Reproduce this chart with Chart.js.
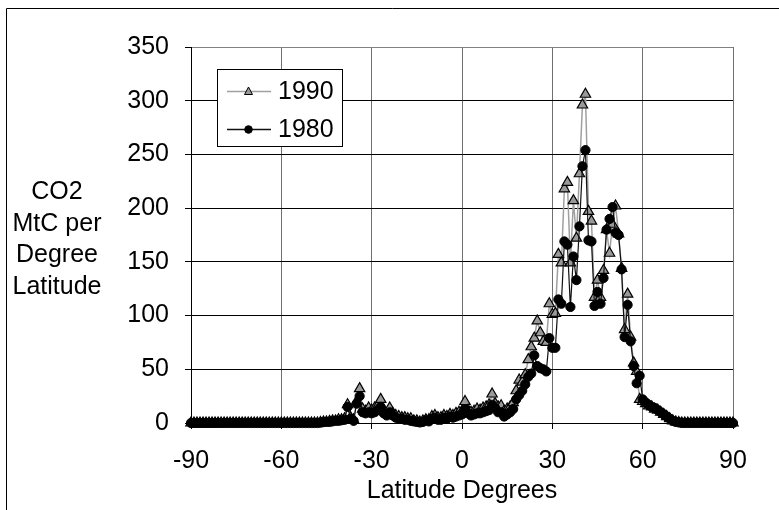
<!DOCTYPE html>
<html>
<head>
<meta charset="utf-8">
<script src="https://cdn.jsdelivr.net/npm/chart.js@4.4.0/dist/chart.umd.min.js"></script>
<style>
  html, body { margin: 0; padding: 0; background: #fff; }
  #wrap { position: relative; width: 779px; height: 510px; }
</style>
</head>
<body>
<div id="wrap"><canvas id="chart" width="779" height="510"></canvas></div>
<script>
// latitude of each point (one per degree)
const latitudes = [
  -90,-89,-88,-87,-86,-85,-84,-83,-82,-81,-80,-79,-78,-77,-76,-75,-74,-73,-72,-71,
  -70,-69,-68,-67,-66,-65,-64,-63,-62,-61,-60,-59,-58,-57,-56,-55,-54,-53,-52,-51,
  -50,-49,-48,-47,-46,-45,-44,-43,-42,-41,-40,-39,-38,-37,-36,-35,-34,-33,-32,-31,
  -30,-29,-28,-27,-26,-25,-24,-23,-22,-21,-20,-19,-18,-17,-16,-15,-14,-13,-12,-11,
  -10,-9,-8,-7,-6,-5,-4,-3,-2,-1,0,1,2,3,4,5,6,7,8,9,
  10,11,12,13,14,15,16,17,18,19,20,21,22,23,24,25,26,27,28,29,
  30,31,32,33,34,35,36,37,38,39,40,41,42,43,44,45,46,47,48,49,
  50,51,52,53,54,55,56,57,58,59,60,61,62,63,64,65,66,67,68,69,
  70,71,72,73,74,75,76,77,78,79,80,81,82,83,84,85,86,87,88,89,90
];

// MtC per degree latitude, 1990
const co2_1990 = [
  0,0,0,0,0,0,0,0,0,0,0,0,0,0,0,0,0,0,0,0,
  0,0,0,0,0,0,0,0,0,0,0,0,0,0,0,0,0,0,0,0,
  0,0,0,0.5,1,1,1.5,2,2,3,3,4,17,5,3,20,32,13,11,14,
  12,14,16,22,12,9,14,9,7,6,5,5,4,4,2,2,1,2,3,3,
  6,7,5,5,7,6,8,7,9,10,11,20,12,10,11,13,12,14,15,17,
  27,18,15,16,11,13,15,19,30,40,38,45,59,71,79,95,84,76,75,111,
  101,102,157,149,218,224,149,207,172,232,296,306,197,188,117,133,117,142,180,158,
  185,202,176,144,87,120,80,56,48,22,20,18,16,15,13,12,10,8,6,4,
  2,1,0.5,0,0,0,0,0,0,0,0,0,0,0,0,0,0,0,0,0,0
];

// MtC per degree latitude, 1980
const co2_1980 = [
  0,0,0,0,0,0,0,0,0,0,0,0,0,0,0,0,0,0,0,0,
  0,0,0,0,0,0,0,0,0,0,0,0,0,0,0,0,0,0,0,0,
  0,0,0,0.3,0.8,1,1,1.5,2,2,2.5,3,15,4,2,18,25,10,9,10,
  9,10,12,15,9,7,10,7,5,4,4,3,3,2,1.5,1,0.5,1,2.5,1.5,
  4,5,3,3,5,4,6,5,6,7,8,13,9,7,8,9,9,10,11,12,
  17,14,10,10,6,8,10,13,22,26,30,36,43,46,63,53,51,50,48,79,
  70,70,115,111,169,166,108,155,133,183,239,254,170,169,109,122,111,135,180,190,
  201,177,175,143,80,110,76,53,37,44,22,19,17,15,14,12,10,8,6,4,
  2,1,0.5,0,0,0,0,0,0,0,0,0,0,0,0,0,0,0,0,0,0
];

const seriesNames = ['1990', '1980'];
const xTicks = [-90, -60, -30, 0, 30, 60, 90];
const yTicks = [0, 50, 100, 150, 200, 250, 300, 350];
const xTitle = 'Latitude Degrees';
const yTitleLines = ['CO2', 'MtC per', 'Degree', 'Latitude'];

const FONT = "'Liberation Sans', Arial, sans-serif";

function toPoints(values) {
  return latitudes.map((lat, i) => ({ x: lat, y: values[i] }));
}

// outer frame, y title and the boxed legend
const extras = {
  id: 'extras',
  beforeDraw(chart) {
    const ctx = chart.ctx;
    ctx.save();
    ctx.strokeStyle = '#000';
    ctx.lineWidth = 1;
    ctx.beginPath();
    ctx.moveTo(6.5, 510);
    ctx.lineTo(6.5, 8.5);
    ctx.lineTo(779, 8.5);
    ctx.stroke();
    ctx.restore();
  },
  afterDraw(chart) {
    const ctx = chart.ctx;
    ctx.save();
    ctx.fillStyle = '#000';
    ctx.font = '25px ' + FONT;
    ctx.textAlign = 'center';
    ctx.textBaseline = 'alphabetic';
    yTitleLines.forEach((t, i) => ctx.fillText(t, 57, 199 + i * 31.7));

    // legend box
    ctx.fillStyle = '#fff';
    ctx.fillRect(217.5, 69.5, 125, 77);
    ctx.strokeStyle = '#000';
    ctx.lineWidth = 1;
    ctx.strokeRect(217.5, 69.5, 125, 77);

    const rows = [91.5, 129.5];
    chart.data.datasets.forEach((ds, i) => {
      const y = rows[i];
      ctx.strokeStyle = ds.borderColor;
      ctx.lineWidth = 1.5;
      ctx.beginPath();
      ctx.moveTo(227, y);
      ctx.lineTo(271, y);
      ctx.stroke();
      ctx.fillStyle = ds.pointBackgroundColor;
      ctx.strokeStyle = '#000';
      ctx.lineWidth = 1;
      ctx.beginPath();
      if (ds.pointStyle === 'triangle') {
        ctx.moveTo(248.5, y - 4.5);
        ctx.lineTo(252.5, y + 3);
        ctx.lineTo(244.5, y + 3);
        ctx.closePath();
      } else {
        ctx.arc(248.5, y, 3.8, 0, Math.PI * 2);
      }
      ctx.fill();
      ctx.stroke();
      ctx.fillStyle = '#000';
      ctx.font = '25px ' + FONT;
      ctx.textAlign = 'left';
      ctx.textBaseline = 'middle';
      ctx.fillText(ds.label, 278, y + 1);
    });
    ctx.restore();
  }
};

new Chart(document.getElementById('chart'), {
  type: 'line',
  data: {
    datasets: [
      {
        label: seriesNames[0],
        data: toPoints(co2_1990),
        borderColor: '#a0a0a0',
        borderWidth: 1.5,
        pointStyle: 'triangle',
        pointRadius: 6,
        pointBackgroundColor: '#999999',
        pointBorderColor: '#000',
        pointBorderWidth: 1.2,
        order: 1,
        clip: false
      },
      {
        label: seriesNames[1],
        data: toPoints(co2_1980),
        borderColor: '#111',
        borderWidth: 1.2,
        pointStyle: 'circle',
        pointRadius: 4.6,
        pointBackgroundColor: '#000',
        pointBorderColor: '#000',
        pointBorderWidth: 1,
        order: 0,
        clip: false
      }
    ]
  },
  options: {
    responsive: false,
    animation: false,
    devicePixelRatio: 1,
    layout: { padding: { top: 47, right: 46, left: 0, bottom: 0 } },
    plugins: { legend: { display: false }, tooltip: { enabled: false } },
    scales: {
      x: {
        type: 'linear',
        min: -90,
        max: 90,
        afterBuildTicks: s => { s.ticks = xTicks.map(v => ({ value: v })); },
        afterFit: s => { s.height = 87; },
        ticks: { color: '#000', font: { family: FONT, size: 25 }, padding: 17, maxRotation: 0 },
        grid: {
          color: c => (c.tick && c.tick.value === -90) ? '#000' : '#707070',
          tickColor: '#000',
          tickLength: 6,
          lineWidth: 1
        },
        border: { color: '#000', width: 1 },
        title: {
          display: true,
          text: xTitle,
          color: '#000',
          font: { family: FONT, size: 25 },
          padding: { top: 0, bottom: 4 }
        }
      },
      y: {
        min: 0,
        max: 350,
        afterBuildTicks: s => { s.ticks = yTicks.map(v => ({ value: v })); },
        afterFit: s => { s.width = 191; },
        ticks: { color: '#000', font: { family: FONT, size: 25 }, padding: 16 },
        grid: {
          color: c => (c.tick && c.tick.value === 350) ? '#808080' : '#000',
          tickColor: '#000',
          tickLength: 6,
          lineWidth: 1
        },
        border: { color: '#000', width: 1 }
      }
    }
  },
  plugins: [extras]
});
</script>
</body>
</html>
